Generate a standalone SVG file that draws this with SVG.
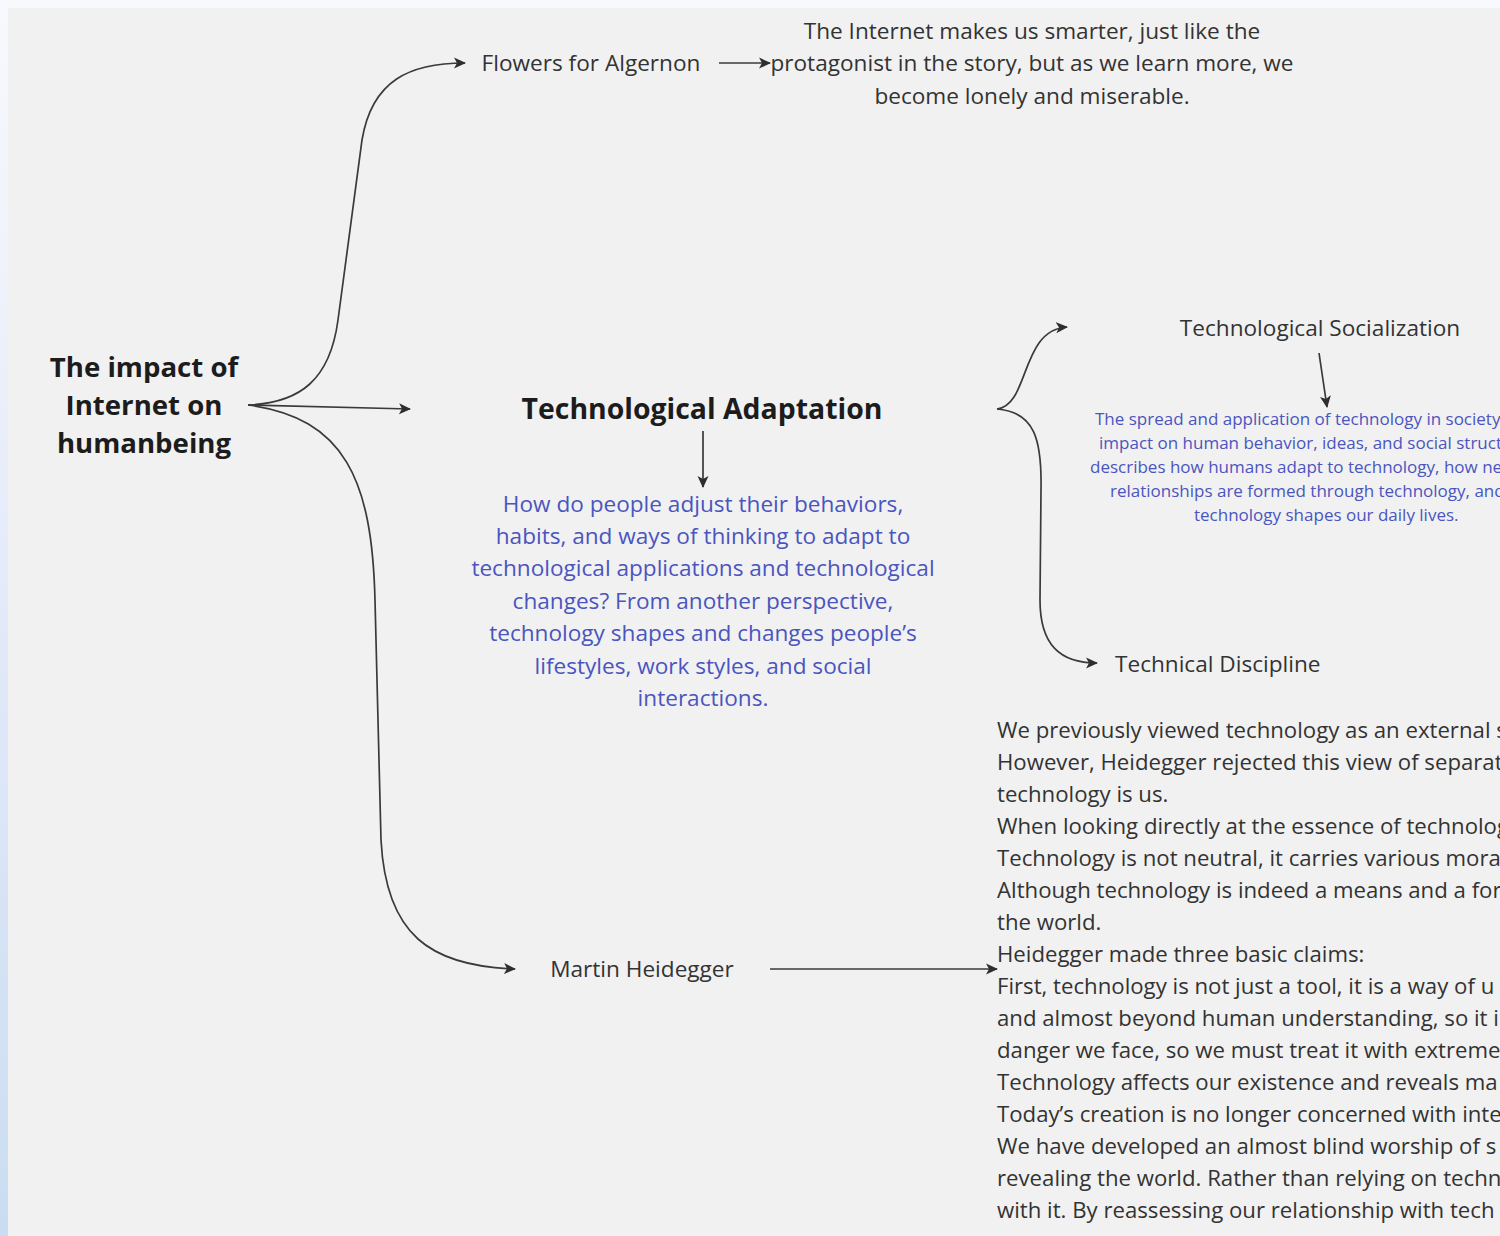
<svg xmlns="http://www.w3.org/2000/svg" width="1500" height="1236" viewBox="0 0 1500 1236">
  <defs>
    <linearGradient id="bgGrad" x1="0" y1="0" x2="0" y2="1">
      <stop offset="0" stop-color="#f8f9fd"/>
      <stop offset="0.35" stop-color="#e9eefa"/>
      <stop offset="1" stop-color="#cbdcf2"/>
    </linearGradient>
    <marker id="arrow" viewBox="0 0 12 12" refX="11" refY="6" markerWidth="12" markerHeight="12" markerUnits="userSpaceOnUse" orient="auto">
      <path d="M0,0.5 L12,6 L0,11.5 L3,6 Z" fill="#2e2e2e"/>
    </marker>
    <style>
      .txt { font-family: "Open Sans", "Noto Sans", "DejaVu Sans", sans-serif; fill: #333; }
      .body { font-size: 22.6px; }
      .note { font-size: 22.2px; }
      .title { font-size: 27.6px; font-weight: 700; fill: #1c1c1c; }
      .head { font-size: 28.4px; font-weight: 700; fill: #1c1c1c; }
      .blue { font-size: 22.6px; fill: #4a55bf; }
      .blue-sm { font-size: 17px; fill: #4a55bf; }
      .mid { text-anchor: middle; }
      .link { fill: none; stroke: #3a3a3a; stroke-width: 1.7; marker-end: url(#arrow); }
    </style>
  </defs>

  <!-- canvas -->
  <rect x="0" y="0" width="1500" height="1236" fill="url(#bgGrad)"/>
  <rect x="8" y="8" width="1492" height="1228" fill="#f1f1f1"/>

  <!-- connectors -->
  <g id="connectors">
    <path class="link" d="M248,405 C300,403 330,380 338,320 L362,140 C372,80 410,63 465,63"/>
    <path class="link" d="M248,405 L410,409"/>
    <path class="link" d="M248,405 C345,418 372,480 375,600 L381,840 C386,935 430,966 515,969"/>
    <path class="link" d="M719,63 L770,63"/>
    <path class="link" d="M703,431 L703,487"/>
    <path class="link" d="M997,409 C1030,405 1020,330 1067,327"/>
    <path class="link" d="M997,409 C1035,412 1042,440 1041,490 L1040,600 C1040,645 1060,663 1097,663"/>
    <path class="link" d="M1319,353 L1327,407"/>
    <path class="link" d="M770,969 L997,969"/>
  </g>

  <!-- root topic -->
  <g id="root">
    <text class="txt title mid" x="144" y="377">The impact of</text>
    <text class="txt title mid" x="144" y="415">Internet on</text>
    <text class="txt title mid" x="144" y="453">humanbeing</text>
  </g>

  <!-- branch: Flowers for Algernon -->
  <g id="algernon">
    <text class="txt body mid" x="591" y="71">Flowers for Algernon</text>
  </g>
  <g id="algernon-note">
    <text class="txt body mid" x="1032" y="39">The Internet makes us smarter, just like the</text>
    <text class="txt body mid" x="1032" y="71">protagonist in the story, but as we learn more, we</text>
    <text class="txt body mid" x="1032" y="104">become lonely and miserable.</text>
  </g>

  <!-- branch: Technological Adaptation -->
  <g id="adaptation">
    <text class="txt head mid" x="702" y="419">Technological Adaptation</text>
  </g>
  <g id="adaptation-note">
    <text class="txt blue mid" x="703" y="512">How do people adjust their behaviors,</text>
    <text class="txt blue mid" x="703" y="544">habits, and ways of thinking to adapt to</text>
    <text class="txt blue mid" x="703" y="576">technological applications and technological</text>
    <text class="txt blue mid" x="703" y="609">changes? From another perspective,</text>
    <text class="txt blue mid" x="703" y="641">technology shapes and changes people’s</text>
    <text class="txt blue mid" x="703" y="674">lifestyles, work styles, and social</text>
    <text class="txt blue mid" x="703" y="706">interactions.</text>
  </g>

  <!-- sub-branch: Technological Socialization -->
  <g id="socialization">
    <text class="txt body mid" x="1320" y="336">Technological Socialization</text>
  </g>
  <g id="socialization-note">
    <text class="txt blue-sm" x="1095" y="425">The spread and application of technology in society</text>
    <text class="txt blue-sm" x="1099" y="449">impact on human behavior, ideas, and social struct</text>
    <text class="txt blue-sm" x="1090" y="473">describes how humans adapt to technology, how ne</text>
    <text class="txt blue-sm" x="1110" y="497">relationships are formed through technology, and</text>
    <text class="txt blue-sm" x="1194" y="521">technology shapes our daily lives.</text>
  </g>

  <!-- sub-branch: Technical Discipline -->
  <g id="discipline">
    <text class="txt body" x="1115" y="672">Technical Discipline</text>
  </g>

  <!-- branch: Martin Heidegger -->
  <g id="heidegger">
    <text class="txt body mid" x="642" y="977">Martin Heidegger</text>
  </g>
  <g id="heidegger-note">
    <text class="txt note" x="997" y="738">We previously viewed technology as an external s</text>
    <text class="txt note" x="997" y="770">However, Heidegger rejected this view of separat</text>
    <text class="txt note" x="997" y="802">technology is us.</text>
    <text class="txt note" x="997" y="834">When looking directly at the essence of technolog</text>
    <text class="txt note" x="997" y="866">Technology is not neutral, it carries various mora</text>
    <text class="txt note" x="997" y="898">Although technology is indeed a means and a for</text>
    <text class="txt note" x="997" y="930">the world.</text>
    <text class="txt note" x="997" y="962">Heidegger made three basic claims:</text>
    <text class="txt note" x="997" y="994">First, technology is not just a tool, it is a way of u</text>
    <text class="txt note" x="997" y="1026">and almost beyond human understanding, so it i</text>
    <text class="txt note" x="997" y="1058">danger we face, so we must treat it with extreme</text>
    <text class="txt note" x="997" y="1090">Technology affects our existence and reveals ma</text>
    <text class="txt note" x="997" y="1122">Today’s creation is no longer concerned with inte</text>
    <text class="txt note" x="997" y="1154">We have developed an almost blind worship of s</text>
    <text class="txt note" x="997" y="1186">revealing the world. Rather than relying on techn</text>
    <text class="txt note" x="997" y="1218">with it. By reassessing our relationship with tech</text>
  </g>
</svg>
